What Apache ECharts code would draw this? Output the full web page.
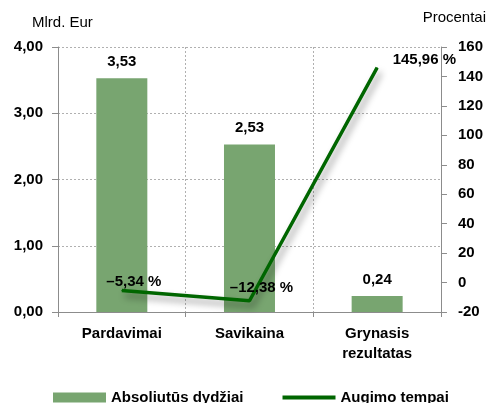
<!DOCTYPE html>
<html>
<head>
<meta charset="utf-8">
<script src="https://cdn.jsdelivr.net/npm/echarts@6/dist/echarts.min.js"></script>
<style>
  html, body { margin: 0; padding: 0; background: #fff; }
  #chart { width: 486px; height: 403px; }
</style>
</head>
<body>
<div id="chart"></div>
<script>
const categories = ['Pardavimai', 'Savikaina', 'Grynasis\nrezultatas'];
const absoluteValues = [3.53, 2.53, 0.24];
const growthRates = [-5.34, -12.38, 145.96];
const growthLabelPos = [
    { position: 'top', offset: [12, 4] },
    { position: 'top', offset: [12, 0] },
    { position: 'right', offset: [10, -8] }
];

const FONT = '"Liberation Sans", Arial, sans-serif';
const AXIS_GRAY = '#8c8c8c';

function fmtNum(v, digits) {
    const s = Math.abs(v).toFixed(digits).replace('.', ',');
    return (v < 0 ? '\u2013' : '') + s;
}

document.addEventListener('DOMContentLoaded', function() {
    const chart = echarts.init(document.getElementById('chart'), null, { renderer: 'canvas' });

    const option = {
        animation: false,
        textStyle: { fontFamily: FONT },
        grid: { left: 58, right: 43, top: 47, bottom: 91 },
        graphic: [
            { type: 'text', left: 32, top: 15, style: { text: 'Mlrd. Eur', font: '15px ' + FONT, fill: '#000' } },
            { type: 'text', right: 0, top: 10, style: { text: 'Procentai', font: '15px ' + FONT, fill: '#000' } }
        ],
        legend: {
            left: 48,
            top: 385,
            itemGap: 37,
            itemWidth: 53,
            itemHeight: 10,
            textStyle: { fontFamily: FONT, fontSize: 15, fontWeight: 'bold', color: '#000' },
            data: [
                { name: 'Absoliutūs dydžiai', icon: 'rect' },
                { name: 'Augimo tempai', itemStyle: { opacity: 0 }, lineStyle: { width: 4, shadowBlur: 0, shadowOffsetX: 0, shadowOffsetY: 0 } }
            ]
        },
        xAxis: {
            type: 'category',
            data: categories,
            boundaryGap: true,
            axisLine: { lineStyle: { color: AXIS_GRAY, width: 1 } },
            axisTick: { show: true, length: 5, lineStyle: { color: AXIS_GRAY } },
            axisLabel: {
                color: '#000', fontSize: 15, fontWeight: 'bold', fontFamily: FONT,
                margin: 12, lineHeight: 20, interval: 0
            },
            splitLine: { show: true, lineStyle: { color: '#b0b0b0', type: [2, 2], width: 1 } }
        },
        yAxis: [
            {
                type: 'value',
                min: 0, max: 4, interval: 1,
                axisLine: { show: true, lineStyle: { color: AXIS_GRAY } },
                axisTick: { show: true, length: 6, lineStyle: { color: AXIS_GRAY } },
                axisLabel: {
                    color: '#000', fontSize: 15, fontWeight: 'bold', fontFamily: FONT, margin: 15,
                    formatter: function(v) { return fmtNum(v, 2); }
                },
                splitLine: { show: true, lineStyle: { color: '#b0b0b0', type: [2, 2], width: 1 } }
            },
            {
                type: 'value',
                min: -20, max: 160, interval: 20,
                position: 'right',
                axisLine: { show: true, lineStyle: { color: AXIS_GRAY } },
                axisTick: { show: true, length: 6, lineStyle: { color: AXIS_GRAY } },
                axisLabel: {
                    color: '#000', fontSize: 15, fontWeight: 'bold', fontFamily: FONT, margin: 17,
                    align: 'left'
                },
                splitLine: { show: false }
            }
        ],
        series: [
            {
                name: 'Absoliutūs dydžiai',
                type: 'bar',
                yAxisIndex: 0,
                barWidth: 51,
                data: absoluteValues,
                itemStyle: { color: '#78A570' },
                label: {
                    show: true, position: 'top', distance: 9,
                    color: '#000', fontSize: 15, fontWeight: 'bold', fontFamily: FONT,
                    formatter: function(p) { return fmtNum(p.value, 2); }
                }
            },
            {
                name: 'Augimo tempai',
                type: 'line',
                yAxisIndex: 1,
                symbol: 'none',
                data: growthRates.map(function(v, i) {
                    return { value: v, symbol: 'circle', symbolSize: 1, label: growthLabelPos[i] };
                }),
                itemStyle: { color: '#006600' },
                lineStyle: {
                    color: '#006600', width: 3.5,
                    shadowColor: 'rgba(0,0,0,0.4)', shadowBlur: 7, shadowOffsetX: 3, shadowOffsetY: 5
                },
                label: {
                    show: true,
                    color: '#000', fontSize: 15, fontWeight: 'bold', fontFamily: FONT,
                    formatter: function(p) { return fmtNum(p.value, 2) + ' %'; }
                },
                z: 5
            }
        ]
    };

    chart.setOption(option);
});
</script>
</body>
</html>
